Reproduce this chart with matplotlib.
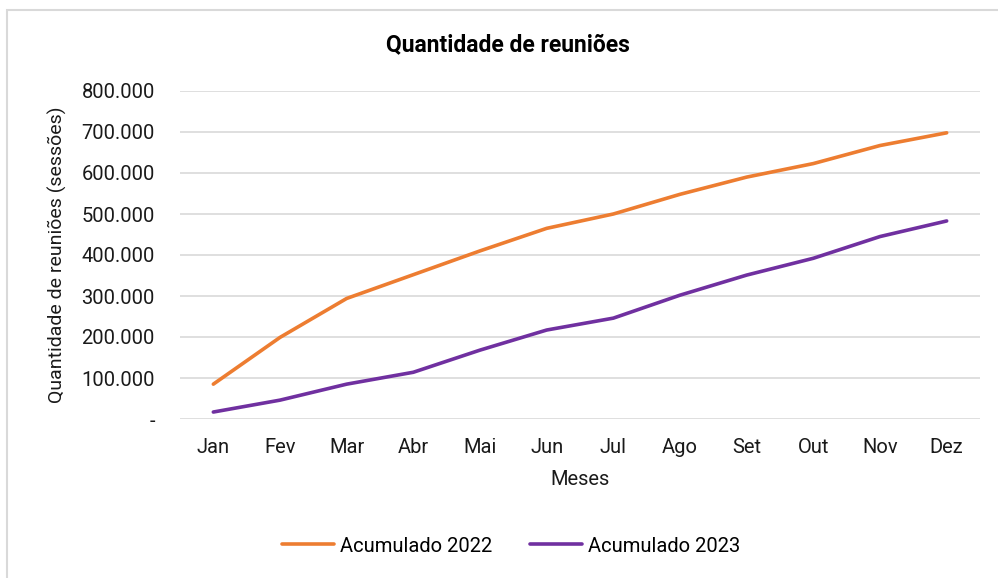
import matplotlib.pyplot as plt
from matplotlib.patches import Rectangle
from matplotlib.ticker import FuncFormatter

plt.rcParams['font.family'] = ['Roboto', 'DejaVu Sans']

meses = ['Jan', 'Fev', 'Mar', 'Abr', 'Mai', 'Jun', 'Jul', 'Ago', 'Set', 'Out', 'Nov', 'Dez']
acumulado_2022 = [85000, 199000, 294000, 352000, 410000, 465000, 500000, 548000, 590000, 623000, 667000, 698000]
acumulado_2023 = [17000, 46000, 85000, 114000, 168000, 217000, 246000, 302000, 351000, 392000, 445000, 483000]

fs = 14.5

fig = plt.figure(figsize=(9.98, 5.78), dpi=100)
ax = fig.add_axes([180/998, 1-419/578, 800/998, 328/578])

# chart border (left + top visible)
fig.patches.append(Rectangle((7/998, -0.1), 1.2, 1-10/578+0.1, transform=fig.transFigure,
                             fill=False, edgecolor='#d9d9d9', linewidth=1.5))

x = range(len(meses))
ax.plot(x, acumulado_2022, color='#ED7D31', linewidth=2.6, solid_capstyle='round', label='Acumulado 2022')
ax.plot(x, acumulado_2023, color='#7030A0', linewidth=2.6, solid_capstyle='round', label='Acumulado 2023')

ax.set_xlim(-0.5, 11.5)
ax.set_ylim(0, 800000)
ax.set_yticks(range(0, 800001, 100000))
ax.yaxis.set_major_formatter(FuncFormatter(lambda v, p: '-' if v == 0 else f'{int(v):,}'.replace(',', '.')))
ax.set_xticks(list(x))
ax.set_xticklabels(meses)
ax.tick_params(length=0, labelsize=fs, colors='#1a1a1a')
ax.tick_params(axis='x', pad=14)
ax.tick_params(axis='y', pad=18)

ax.grid(axis='y', color='#d9d9d9', linewidth=1.2)
ax.set_axisbelow(True)
for s in ax.spines.values():
    s.set_visible(False)

ax.set_xlabel('Meses', fontsize=fs, color='#1a1a1a', labelpad=9)
fig.text(57/998, 1-255/578, 'Quantidade de reuniões (sessões)', rotation=90, fontsize=14,
         color='#1a1a1a', ha='center', va='center')
fig.text(508/998, 1-45/578, 'Quantidade de reuniões', fontsize=16.5, fontweight='bold',
         ha='center', va='center')

fig.legend(loc='center', bbox_to_anchor=(511/998, 1-546/578), ncol=2, frameon=False,
           fontsize=fs, handlelength=2.6, handletextpad=0.3, columnspacing=1.85)

fig.savefig('out.png', dpi=100)
